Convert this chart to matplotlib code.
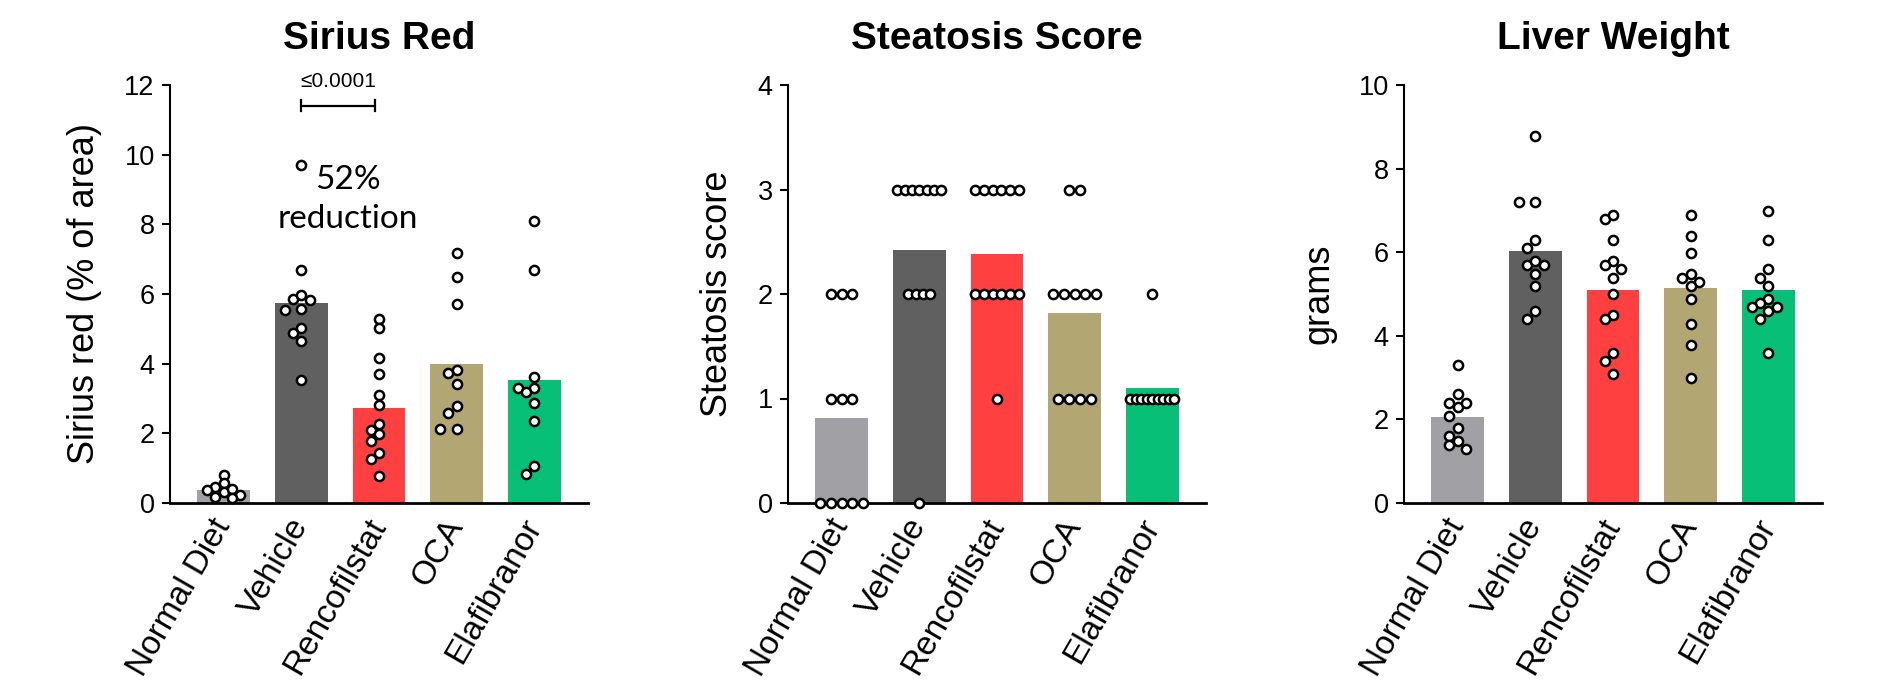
import numpy as np
import matplotlib
matplotlib.use("Agg")
import matplotlib.pyplot as plt

plt.rcParams['font.family'] = ['Liberation Sans', 'DejaVu Sans']

groups = ["Normal Diet", "Vehicle", "Rencofilstat", "OCA", "Elafibranor"]
bar_colors = ["#a1a0a5", "#606060", "#ff4040", "#b2a673", "#08bf78"]

# Sirius red staining (% of area), one value per animal
sirius_nd = [0.46, 0.36, 0.81, 0.56, 0.31, 0.41, 0.17, 0.22, 0.15]
sirius_veh = [9.70, 6.70, 5.84, 5.86, 5.96, 5.54, 5.56, 5.03, 4.87, 4.65, 3.54]
sirius_ren = [5.27, 5.01, 4.17, 3.70, 3.09, 2.81, 2.28, 2.11, 1.97, 1.77, 1.44, 1.25, 0.77]
sirius_oca = [7.19, 6.49, 5.70, 3.81, 3.72, 3.43, 2.78, 2.59, 2.12, 2.12]
sirius_ela = [8.10, 6.70, 3.62, 3.30, 3.29, 3.18, 2.88, 2.35, 1.06, 0.82]

# Steatosis score (0-3)
steat_nd = [2, 2, 2, 1, 1, 1, 0, 0, 0, 0, 0]
steat_veh = [3, 3, 3, 3, 3, 3, 3, 2, 2, 2, 2, 0]
steat_ren = [3, 3, 3, 3, 3, 3, 2, 2, 2, 2, 2, 2, 1]
steat_oca = [3, 3, 2, 2, 2, 2, 2, 1, 1, 1, 1]
steat_ela = [2, 1, 1, 1, 1, 1, 1, 1, 1, 1]

# Liver weight (grams)
liver_nd = [3.29, 2.60, 2.29, 2.40, 2.40, 2.09, 1.80, 1.49, 1.60, 1.38, 1.29]
liver_veh = [8.79, 7.19, 7.19, 6.29, 6.09, 5.69, 5.79, 5.69, 5.49, 5.19, 4.59, 4.39]
liver_ren = [6.79, 6.88, 6.29, 5.79, 5.69, 5.59, 5.39, 4.99, 4.49, 4.39, 3.59, 3.39, 3.09]
liver_oca = [6.89, 6.39, 5.99, 5.49, 5.39, 5.29, 5.19, 4.89, 4.29, 3.79, 3.00]
liver_ela = [6.99, 6.29, 5.59, 5.39, 5.19, 4.89, 4.79, 4.69, 4.69, 4.59, 4.39, 3.59]

sirius = [sirius_nd, sirius_veh, sirius_ren, sirius_oca, sirius_ela]
steatosis = [steat_nd, steat_veh, steat_ren, steat_oca, steat_ela]
liver = [liver_nd, liver_veh, liver_ren, liver_oca, liver_ela]

p_label = "≤0.0001"
reduction_label = ["52%", "reduction"]

BAR_W = 0.68
XLIM = (-0.69, 4.69)


def swarm_offsets(ax, x0, values, step_px=8.3, min_px=8.4):
    """Beeswarm-style horizontal offsets (data units) so markers do not pile up."""
    vals = np.asarray(values, float)
    disp = ax.transData.transform(np.column_stack([np.full(len(vals), x0), vals]))
    px_per_x = ax.transData.transform((1, 0))[0] - ax.transData.transform((0, 0))[0]
    placed = []
    offs = np.zeros(len(vals))
    for i in np.argsort(-vals, kind="stable"):
        y = disp[i, 1]
        for k in [0, -1, 1, -2, 2, -3, 3, -4, 4, -5, 5]:
            dx = k * step_px
            if all((dx - px) ** 2 + (y - py) ** 2 >= min_px ** 2 for px, py in placed):
                break
        placed.append((dx, y))
        offs[i] = dx / px_per_x
    return offs


def row_offsets(values, spacing=0.139, span=0.567):
    """Centered rows for tied (integer) scores, squeezed to fit a fixed span."""
    vals = np.asarray(values)
    uniq, counts = np.unique(vals, return_counts=True)
    nmax = counts.max()
    sp = spacing if nmax < 2 else min(spacing, span / (nmax - 1))
    offs = np.zeros(len(vals))
    for u, c in zip(uniq, counts):
        idx = np.where(vals == u)[0]
        offs[idx] = (np.arange(c) - (c - 1) / 2) * sp
    return offs


fig = plt.figure(figsize=(18.86, 6.84), dpi=100)
ax_w, ax_h, ax_b = 418 / 1886, 418 / 684, (684 - 503) / 684
lefts = [170 / 1886, 788 / 1886, 1404 / 1886]

panels = [
    ("Sirius Red", "Sirius red (% of area)", sirius, (0, 12), np.arange(0, 13, 2), "swarm"),
    ("Steatosis Score", "Steatosis score", steatosis, (0, 4), np.arange(0, 5, 1), "rows"),
    ("Liver Weight", "grams", liver, (0, 10), np.arange(0, 11, 2), "swarm"),
]

axes = []
for left, (title, ylabel, data, ylim, yticks, layout) in zip(lefts, panels):
    ax = fig.add_axes([left, ax_b, ax_w, ax_h])
    axes.append(ax)
    ax.set_xlim(*XLIM)
    ax.set_ylim(*ylim)
    x = np.arange(len(groups))
    means = [np.mean(d) for d in data]
    ax.bar(x, means, width=BAR_W, color=bar_colors, edgecolor="none", zorder=1)
    for xi, d in zip(x, data):
        offs = swarm_offsets(ax, xi, d) if layout == "swarm" else row_offsets(d)
        ax.plot(xi + offs, d, linestyle="none", marker="o", ms=6.6, mew=1.8,
                mfc="white", mec="black", zorder=3, clip_on=False)

    for s in ["top", "right"]:
        ax.spines[s].set_visible(False)
    ax.spines["left"].set_linewidth(1.5)
    ax.spines["bottom"].set_linewidth(2.0)
    ax.set_yticks(yticks)
    ax.tick_params(axis="y", length=6, width=1.5, labelsize=19.5, pad=5)
    ax.set_xticks(x)
    ax.set_xticklabels(groups, rotation=60, ha="right", va="center",
                       rotation_mode="anchor", fontsize=24)
    ax.tick_params(axis="x", length=0, pad=13)
    ax.set_ylabel(ylabel, fontsize=26, labelpad=16)
    ax.set_title(title, fontsize=28, fontweight="bold", pad=26)

# Significance bracket and annotation on the Sirius red panel
ax = axes[0]
y_br = 11.4
x_br = (1.0, 1.95)
ax.plot(x_br, [y_br, y_br], color="black", lw=1.6, solid_capstyle="butt", clip_on=False)
for xe in x_br:
    ax.plot([xe, xe], [y_br - 0.16, y_br + 0.16], color="black", lw=1.6, clip_on=False)
ax.text(sum(x_br) / 2, 11.94, p_label, ha="center", va="baseline", fontsize=15)
ax.text(1.6, 9.01, reduction_label[0], ha="center", va="baseline", fontsize=24,
        family=["Lato", "DejaVu Sans"])
ax.text(1.6, 7.9, reduction_label[1], ha="center", va="baseline", fontsize=24,
        family=["Lato", "DejaVu Sans"])

fig.savefig("out.png", dpi=100, facecolor="white")
